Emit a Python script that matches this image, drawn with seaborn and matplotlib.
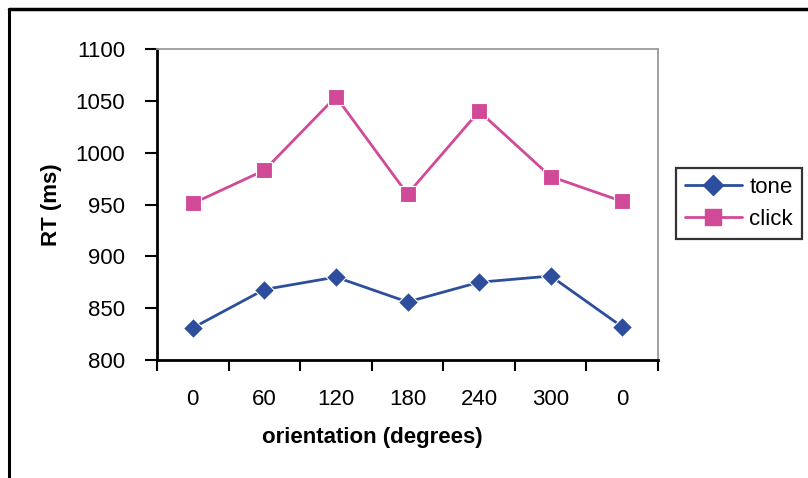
import matplotlib
matplotlib.use("Agg")
import matplotlib.pyplot as plt
import seaborn as sns
import pandas as pd
import numpy as np
from matplotlib.lines import Line2D

categories = ["0", "60", "120", "180", "240", "300", "0"]
tone = [831, 868, 880, 856, 875, 881, 832]
click = [951, 983, 1054, 960, 1040, 977, 953]
series_names = ["tone", "click"]
yticks = [800, 850, 900, 950, 1000, 1050, 1100]

sns.set_theme(style="white")
plt.rcParams["font.family"] = ["Liberation Sans", "DejaVu Sans"]
plt.rcParams["text.color"] = "black"
plt.rcParams["axes.labelcolor"] = "black"

pos = list(range(len(categories)))
df = pd.DataFrame({
    "pos": pos * 2,
    "RT": tone + click,
    "series": ["tone"] * len(tone) + ["click"] * len(click),
})

FS = 16
fig = plt.figure(figsize=(8.08, 4.78), dpi=100)
ax = fig.add_axes([157 / 808, 1 - 360 / 478, 501 / 808, 311 / 478])

palette = {"tone": "#2D4E9C", "click": "#D14A98"}
markers = {"tone": "D", "click": "s"}
msize = {"tone": 10, "click": 11}
sns.lineplot(data=df, x="pos", y="RT", hue="series", style="series",
             palette=palette, markers=markers, dashes=False, ax=ax,
             linewidth=2, markersize=11, markeredgewidth=0.8, legend=False)
for line in ax.lines:
    if line.get_marker() == "D":
        line.set_markersize(msize["tone"])

ax.set_xlim(-0.5, len(categories) - 0.5)
ax.set_ylim(800, 1100)
ax.set_yticks(yticks)
ax.set_yticklabels([str(v) for v in yticks], fontsize=FS, color="black")
ax.tick_params(axis="y", which="major", direction="out", length=9, width=1.5,
               color="black", pad=14, left=True)

ax.set_xticks(np.arange(-0.5, len(categories), 1.0))
ax.set_xticklabels([])
ax.set_xticks(pos, minor=True)
ax.set_xticklabels(categories, minor=True, fontsize=FS, color="black")
ax.tick_params(axis="x", which="major", direction="out", length=8, width=1.5,
               color="black", bottom=True)
ax.tick_params(axis="x", which="minor", length=0, pad=21)

for side in ["left", "bottom"]:
    ax.spines[side].set_color("black")
    ax.spines[side].set_linewidth(2)
for side in ["top", "right"]:
    ax.spines[side].set_color("#9a9a9a")
    ax.spines[side].set_linewidth(1.3)
    ax.spines[side].set_visible(True)
ax.grid(False)

ax.set_xlabel("orientation (degrees)", fontsize=FS, fontweight="bold", va="center")
ax.xaxis.set_label_coords((372.5 - 157) / 501, (360 - 438) / 311)
ax.set_ylabel("RT (ms)", fontsize=FS, fontweight="bold", va="center")
ax.yaxis.set_label_coords((51 - 157) / 501, 0.5)

handles = [Line2D([], [], color=palette[s], marker=markers[s], linewidth=2,
                  markersize=msize[s]) for s in series_names]
leg = ax.legend(handles, series_names, loc="upper left",
                bbox_to_anchor=(676 / 808, 1 - 168 / 478), bbox_transform=fig.transFigure,
                borderaxespad=0, fancybox=False, frameon=True, fontsize=FS,
                handlelength=2.55, handletextpad=0.35, labelspacing=0.5,
                borderpad=0.4)
leg.get_frame().set_edgecolor("black")
leg.get_frame().set_linewidth(1.6)

fig.add_artist(Line2D([9 / 808, 9 / 808], [-0.05, 1 - 9 / 478],
                      transform=fig.transFigure, color="black", linewidth=2.2))
fig.add_artist(Line2D([9 / 808, 1.05], [1 - 9 / 478, 1 - 9 / 478],
                      transform=fig.transFigure, color="black", linewidth=2.5))

fig.savefig("out.png", dpi=100)
